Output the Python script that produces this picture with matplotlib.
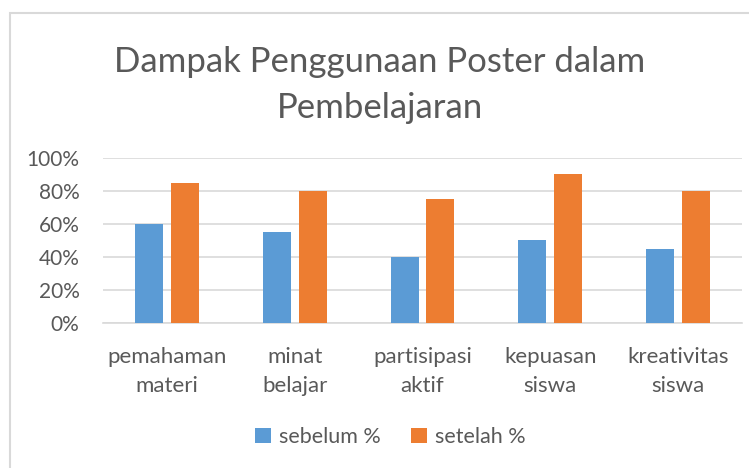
import matplotlib.pyplot as plt
import numpy as np
from matplotlib.patches import Rectangle

# data
categories = ['pemahaman\nmateri', 'minat\nbelajar', 'partisipasi\naktif', 'kepuasan\nsiswa', 'kreativitas\nsiswa']
sebelum = [60, 55, 40, 50, 45]
setelah = [85, 80, 75, 90, 80]
series_names = ['sebelum %', 'setelah %']
yticks = [0, 20, 40, 60, 80, 100]

plt.rcParams['font.family'] = ['Lato', 'DejaVu Sans']
txt = '#595959'

fig = plt.figure(figsize=(7.49, 4.68), dpi=100)

# chart border (right and bottom edges fall outside the picture)
fig.patches.append(Rectangle((10/749, -0.1), 1.0, 1 - 13/468 + 0.1, transform=fig.transFigure,
                             fill=False, edgecolor='#d9d9d9', linewidth=1.5))

ax = fig.add_axes([103/749, 1 - 323/468, 639/749, 165/468])

x = np.arange(len(categories))
w = 0.219
gap = 0.0625
ax.bar(x - (w + gap)/2, sebelum, w, color='#5B9BD5', label=series_names[0], zorder=3)
ax.bar(x + (w + gap)/2, setelah, w, color='#ED7D31', label=series_names[1], zorder=3)

ax.set_xlim(-0.5, len(categories) - 0.5)
ax.set_ylim(0, 100)
ax.set_yticks(yticks)
ax.set_yticklabels([f'{v}%' for v in yticks])
ax.yaxis.grid(True, color='#d9d9d9', linewidth=1.2, zorder=0)
ax.set_xticks(x)
ax.set_xticklabels(categories, linespacing=1.6)
ax.tick_params(axis='both', length=0, colors=txt)
ax.tick_params(axis='x', pad=17, labelsize=16)
ax.tick_params(axis='y', pad=17, labelsize=15)
for s in ['top', 'right', 'left']:
    ax.spines[s].set_visible(False)
ax.spines['bottom'].set_color('#d9d9d9')
ax.spines['bottom'].set_linewidth(1.2)

fig.text(0.5 + 10/749/2, 1 - 85/468, 'Dampak Penggunaan Poster dalam\nPembelajaran',
         ha='center', va='center', fontsize=25, color=txt, linespacing=1.5)

fig.legend(loc='center', bbox_to_anchor=(0.521, 1 - 437/468), ncol=2, frameon=False,
           fontsize=15.5, labelcolor=txt, handlelength=0.75, handleheight=0.75,
           handletextpad=0.35, columnspacing=1.4)

fig.savefig('out.png', dpi=100)
